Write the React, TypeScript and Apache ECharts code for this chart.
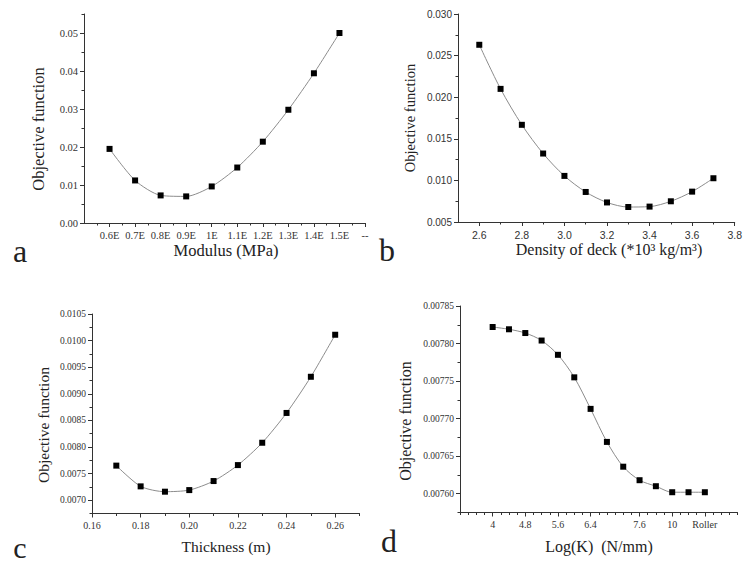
import React, { useEffect, useRef } from "react";
import * as echarts from "echarts";

// Panel a
const A_X = [0.6, 0.7, 0.8, 0.9, 1.0, 1.1, 1.2, 1.3, 1.4, 1.5];
const A_Y = [0.0195, 0.0112, 0.00726, 0.0070, 0.00962, 0.0146, 0.0214, 0.0298, 0.0394, 0.0500];
const A_XTICKS = [0.6, 0.7, 0.8, 0.9, 1.0, 1.1, 1.2, 1.3, 1.4, 1.5, 1.6];
const A_XLABELS = ["0.6E", "0.7E", "0.8E", "0.9E", "1E", "1.1E", "1.2E", "1.3E", "1.4E", "1.5E", "--"];
const A_YTICKS = [0, 0.01, 0.02, 0.03, 0.04, 0.05];

// Panel b
const B_X = [2.6, 2.7, 2.8, 2.9, 3.0, 3.1, 3.2, 3.3, 3.4, 3.5, 3.6, 3.7];
const B_Y = [0.0263, 0.0210, 0.01668, 0.01323, 0.01054, 0.00861, 0.00735, 0.0068, 0.00685, 0.00749, 0.00865, 0.01026];
const B_XTICKS = [2.6, 2.8, 3.0, 3.2, 3.4, 3.6, 3.8];
const B_YTICKS = [0.005, 0.01, 0.015, 0.02, 0.025, 0.03];

// Panel c
const C_X = [0.17, 0.18, 0.19, 0.2, 0.21, 0.22, 0.23, 0.24, 0.25, 0.26];
const C_Y = [0.00765, 0.00726, 0.00716, 0.00719, 0.00736, 0.00766, 0.00808, 0.00864, 0.00932, 0.01011];
const C_XTICKS = [0.16, 0.18, 0.2, 0.22, 0.24, 0.26];
const C_YTICKS = [0.007, 0.0075, 0.008, 0.0085, 0.009, 0.0095, 0.01, 0.0105];

// Panel d
const D_CATS = ["4", "4.4", "4.8", "5.2", "5.6", "6", "6.4", "6.8", "7.2", "7.6", "8.8", "10", "12", "Roller"];
const D_Y = [0.007822, 0.007819, 0.007814, 0.007804, 0.007785, 0.007755, 0.007713, 0.007669, 0.007636, 0.007618, 0.00761, 0.007602, 0.007602, 0.007602];
const D_LABELED = [0, 2, 4, 6, 9, 11, 13];
const D_YTICKS = [0.0076, 0.00765, 0.0077, 0.00775, 0.0078, 0.00785];

const SERIF = "Liberation Serif";
const SANS = "Liberation Sans";
const AXIS_COLOR = "#333";

function mids(ticks: number[], step: number, extraEnd = false): number[] {
  const out: number[] = [];
  for (let i = 0; i < ticks.length - 1; i++) out.push(+(ticks[i] + step).toFixed(8));
  if (extraEnd) out.push(+(ticks[ticks.length - 1] + step).toFixed(8));
  return out;
}

function axisPair(
  gridIndex: number,
  min: number,
  max: number,
  majors: number[],
  labelVals: number[],
  minors: number[],
  fmt: (v: number) => string,
  font: string,
  fontSize: number,
  isY: boolean
) {
  const major: any = {
    type: "value",
    gridIndex,
    min,
    max,
    position: isY ? "left" : "bottom",
    splitLine: { show: false },
    axisLine: { show: true, onZero: false, lineStyle: { color: AXIS_COLOR, width: 1 } },
    axisTick: { show: true, inside: false, length: 4, customValues: majors, lineStyle: { color: AXIS_COLOR } },
    axisLabel: {
      show: true,
      customValues: labelVals,
      formatter: fmt,
      fontFamily: font,
      fontSize,
      color: "#333",
      margin: isY ? 6 : 7,
      hideOverlap: false,
    },
  };
  const minor: any = {
    type: "value",
    gridIndex,
    min,
    max,
    position: isY ? "left" : "bottom",
    splitLine: { show: false },
    axisLine: { show: false, onZero: false },
    axisTick: { show: true, inside: false, length: 2.5, customValues: minors, lineStyle: { color: AXIS_COLOR } },
    axisLabel: { show: false },
  };
  return [major, minor];
}

const findLabel = (ticks: number[], labels: string[]) => (v: number) => {
  const i = ticks.findIndex((t) => Math.abs(t - v) < 1e-9);
  return i >= 0 ? labels[i] : "";
};

export default function App() {
  const ref = useRef<HTMLDivElement>(null);
  useEffect(() => {
    if (!ref.current) return;
    const chart = echarts.init(ref.current, undefined, { renderer: "svg" });

    const grids = [
      { left: 84, top: 14, width: 281, height: 209 },
      { left: 458, top: 14, width: 281, height: 208 },
      { left: 92, top: 314, width: 267.5, height: 199.5 },
      { left: 460, top: 306, width: 277.5, height: 206.5 },
    ];

    const dMinorsX: number[] = [];
    for (let v = -2; v <= 15.001; v += 0.5) {
      if (!D_LABELED.includes(v)) dMinorsX.push(v);
    }

    const xA = axisPair(0, 0.5, 1.6, A_XTICKS, A_XTICKS, mids([0.5, ...A_XTICKS], 0.05), findLabel(A_XTICKS, A_XLABELS), SERIF, 10.5, false);
    const yA = axisPair(0, 0, 0.055, A_YTICKS, A_YTICKS, mids(A_YTICKS, 0.005, true), (v) => v.toFixed(2), SERIF, 10.5, true);
    const xB = axisPair(1, 2.5, 3.8, B_XTICKS, B_XTICKS, mids(B_XTICKS, 0.1), (v) => v.toFixed(1), SANS, 10.5, false);
    const yB = axisPair(1, 0.005, 0.03, B_YTICKS, B_YTICKS, mids(B_YTICKS, 0.0025), (v) => v.toFixed(3), SANS, 10, true);
    const xC = axisPair(2, 0.16, 0.27, C_XTICKS, C_XTICKS, mids(C_XTICKS, 0.01, true), (v) => v.toFixed(2), SERIF, 10, false);
    const yC = axisPair(2, 0.00675, 0.0105, C_YTICKS, C_YTICKS, [0.00675, ...mids(C_YTICKS, 0.00025)], (v) => v.toFixed(4), SERIF, 9.5, true);
    const xD = axisPair(3, -2, 15, D_LABELED, D_LABELED, dMinorsX, (v) => D_CATS[Math.round(v)] ?? "", SERIF, 10, false);
    const yD = axisPair(3, 0.007575, 0.00785, D_YTICKS, D_YTICKS, [0.007575, ...mids(D_YTICKS, 0.000025)], (v) => v.toFixed(5), SERIF, 9.5, true);

    const xAxis = [...xA, ...xB, ...xC, ...xD];
    const yAxis = [...yA, ...yB, ...yC, ...yD];

    const mkSeries = (idx: number, data: number[][], smooth: number) => ({
      type: "line",
      xAxisIndex: idx * 2,
      yAxisIndex: idx * 2,
      data,
      smooth,
      symbol: "rect",
      symbolSize: 6,
      showSymbol: true,
      itemStyle: { color: "#000" },
      lineStyle: { color: "#8c8c8c", width: 1 },
      z: 3,
    });

    const series = [
      mkSeries(0, A_X.map((x, i) => [x, A_Y[i]]), 0.25),
      mkSeries(1, B_X.map((x, i) => [x, B_Y[i]]), 0.3),
      mkSeries(2, C_X.map((x, i) => [x, C_Y[i]]), 0.25),
      mkSeries(3, D_CATS.map((_, i) => [i, D_Y[i]]), 0.3),
    ];

    const titleStyle = (text: string, size: number) => ({
      text,
      fontFamily: SERIF,
      fontSize: size,
      fill: "#222",
      textAlign: "center",
      textVerticalAlign: "middle",
    });

    const graphic: any[] = [
      { type: "text", x: 226, y: 250, style: titleStyle("Modulus (MPa)", 16.5) },
      { type: "text", x: 38, y: 129, rotation: Math.PI / 2, style: titleStyle("Objective function", 16.5) },
      { type: "text", x: 609, y: 249, style: titleStyle("Density of deck (*10³ kg/m³)", 16) },
      { type: "text", x: 410, y: 118, rotation: Math.PI / 2, style: titleStyle("Objective function", 14.5) },
      { type: "text", x: 226, y: 546, style: titleStyle("Thickness (m)", 15.5) },
      { type: "text", x: 43, y: 425, rotation: Math.PI / 2, style: titleStyle("Objective function", 15.5) },
      { type: "text", x: 599, y: 546, style: titleStyle("Log(K)  (N/mm)", 16) },
      { type: "text", x: 405, y: 421, rotation: Math.PI / 2, style: titleStyle("Objective function", 16) },
      { type: "text", x: 20, y: 251, style: titleStyle("a", 32) },
      { type: "text", x: 387, y: 250, style: titleStyle("b", 32) },
      { type: "text", x: 20, y: 547, style: titleStyle("c", 30) },
      { type: "text", x: 389, y: 541, style: titleStyle("d", 32) },
    ];

    chart.setOption({
      animation: false,
      backgroundColor: "#fff",
      grid: grids,
      xAxis,
      yAxis,
      series,
      graphic,
    });
    return () => chart.dispose();
  }, []);

  return <div ref={ref} style={{ position: "fixed", left: 0, top: 0, width: 745, height: 565 }} />;
}
